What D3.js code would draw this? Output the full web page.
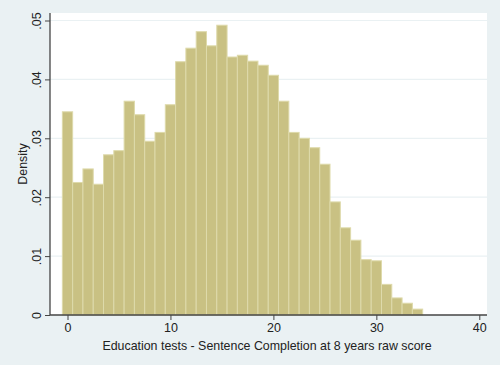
<!DOCTYPE html>
<html>
<head>
<meta charset="utf-8">
<script src="https://cdn.jsdelivr.net/npm/d3@7"></script>
<style>
  body { margin: 0; background: #EAF1F3; }
  svg { display: block; }
  text { font-family: "Liberation Sans", Arial, sans-serif; fill: #222; }
</style>
</head>
<body>
<svg id="chart" width="500" height="365"></svg>
<script>
// Data: score bins (discrete, width 1) and density values
const scores = d3.range(0, 35);
const densities = [
  0.0345, 0.0225, 0.0248, 0.0222, 0.0272, 0.0279, 0.0363, 0.0340, 0.0295, 0.0310,
  0.0357, 0.0430, 0.0453, 0.0481, 0.0457, 0.0492, 0.0438, 0.0441, 0.0431, 0.0424,
  0.0407, 0.0363, 0.0310, 0.0300, 0.0284, 0.0256, 0.0192, 0.0148, 0.0127, 0.0094,
  0.0092, 0.0052, 0.0029, 0.0020, 0.0010
];
const xTicks = [0, 10, 20, 30, 40];
const yTicks = [0, 0.01, 0.02, 0.03, 0.04, 0.05];
const yTickLabels = ["0", ".01", ".02", ".03", ".04", ".05"];
const xTitle = "Education tests - Sentence Completion at 8 years raw score";
const yTitle = "Density";

const svg = d3.select("#chart");
const W = 500, H = 365;
const plot = { left: 50, right: 487, top: 13, bottom: 315 };

svg.append("rect").attr("width", W).attr("height", H).attr("fill", "#EAF1F3");
svg.append("rect")
  .attr("x", plot.left).attr("y", plot.top)
  .attr("width", plot.right - plot.left).attr("height", plot.bottom - plot.top)
  .attr("fill", "#FFFFFF");

const x = d3.scaleLinear().domain([0, 40]).range([67.5, 479.3]);
const y = d3.scaleLinear().domain([0, 0.05]).range([plot.bottom, 20.5]);

// gridlines
svg.append("g").selectAll("line")
  .data(yTicks.filter(d => d > 0))
  .join("line")
  .attr("x1", plot.left).attr("x2", plot.right)
  .attr("y1", d => y(d)).attr("y2", d => y(d))
  .attr("stroke", "#EAF1F3").attr("stroke-width", 1.2);

// bars
svg.append("g").selectAll("rect")
  .data(scores.map((s, i) => ({ s, v: densities[i] })))
  .join("rect")
  .attr("x", d => x(d.s - 0.5))
  .attr("width", d => x(d.s + 0.5) - x(d.s - 0.5))
  .attr("y", d => y(d.v))
  .attr("height", d => y(0) - y(d.v))
  .attr("fill", "#C9C183")
  .attr("stroke", "#DEDAAB")
  .attr("stroke-width", 1);

// y axis
const yAxis = d3.axisLeft(y).tickValues(yTicks)
  .tickFormat((d, i) => yTickLabels[i]).tickSize(5).tickPadding(3);
const gy = svg.append("g").attr("transform", `translate(${plot.left},0)`).call(yAxis);
gy.select(".domain").attr("d", `M0,${plot.top}V${plot.bottom}`).attr("stroke", "#444");
gy.selectAll(".tick line").attr("stroke", "#444");
gy.selectAll(".tick text")
  .attr("font-size", 12.5)
  .attr("fill", "#222")
  .attr("text-anchor", "middle")
  .attr("dy", null)
  .attr("transform", "translate(-9,0) rotate(-90)")
  .attr("x", 0).attr("y", 0);

// x axis
const xAxis = d3.axisBottom(x).tickValues(xTicks).tickSize(5).tickPadding(3);
const gx = svg.append("g").attr("transform", `translate(0,${plot.bottom})`).call(xAxis);
gx.select(".domain").attr("d", `M${plot.left},0H${plot.right}`).attr("stroke", "#444");
gx.selectAll(".tick line").attr("stroke", "#444");
gx.selectAll(".tick text").attr("font-size", 12.5).attr("fill", "#222");
svg.selectAll(".domain").attr("stroke-width", 1.3);

// titles
svg.append("text")
  .attr("x", 267).attr("y", 350)
  .attr("text-anchor", "middle").attr("font-size", 12.4)
  .text(xTitle);
svg.append("text")
  .attr("transform", `translate(27,${(plot.top + plot.bottom) / 2}) rotate(-90)`)
  .attr("text-anchor", "middle").attr("font-size", 12.4)
  .text(yTitle);
</script>
</body>
</html>
